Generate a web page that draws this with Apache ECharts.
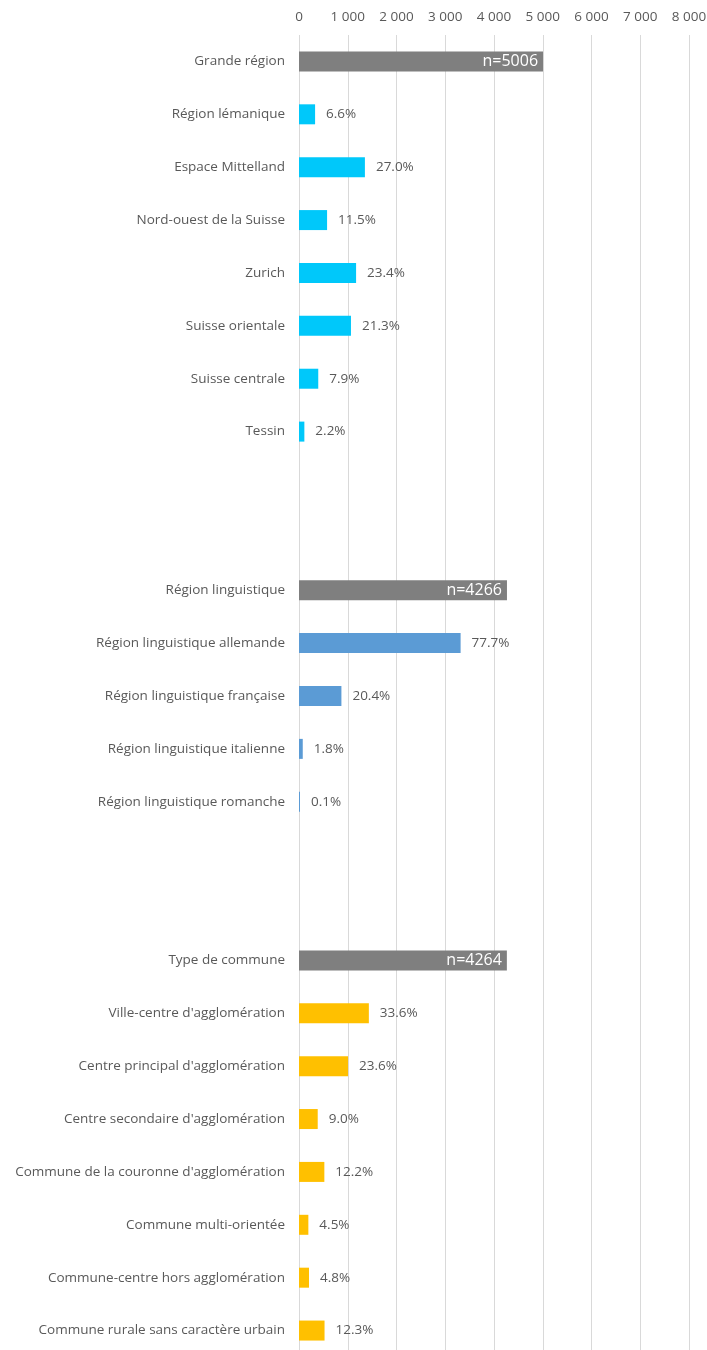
<!DOCTYPE html>
<html>
<head>
<meta charset="utf-8">
<script src="https://cdn.jsdelivr.net/npm/echarts@6/dist/echarts.min.js"></script>
<style>
  html, body { margin: 0; padding: 0; background: #fff; }
  #chart { width: 707px; height: 1350px; }
</style>
</head>
<body>
<div id="chart"></div>
<script>
// categories, top to bottom (blank strings are the gaps between groups)
const categories = [
    'Grande région', 'Région lémanique', 'Espace Mittelland', 'Nord-ouest de la Suisse',
    'Zurich', 'Suisse orientale', 'Suisse centrale', 'Tessin',
    ' ', '  ',
    'Région linguistique', 'Région linguistique allemande', 'Région linguistique française',
    'Région linguistique italienne', 'Région linguistique romanche',
    '   ', '    ',
    'Type de commune', "Ville-centre d'agglomération", "Centre principal d'agglomération",
    "Centre secondaire d'agglomération", "Commune de la couronne d'agglomération",
    'Commune multi-orientée', 'Commune-centre hors agglomération', 'Commune rurale sans caractère urbain'
];

// counts
const values = [
    5006, 330, 1352, 576, 1171, 1066, 395, 110,
    null, null,
    4266, 3315, 870, 77, 4,
    null, null,
    4264, 1433, 1006, 384, 520, 192, 205, 524
];

// bar labels as printed
const labels = [
    'n=5006', '6.6%', '27.0%', '11.5%', '23.4%', '21.3%', '7.9%', '2.2%',
    '', '',
    'n=4266', '77.7%', '20.4%', '1.8%', '0.1%',
    '', '',
    'n=4264', '33.6%', '23.6%', '9.0%', '12.2%', '4.5%', '4.8%', '12.3%'
];

// which group each row belongs to: 0 = total, 1..3 = groups, -1 = gap
const groups = [
    0, 1, 1, 1, 1, 1, 1, 1,
    -1, -1,
    0, 2, 2, 2, 2,
    -1, -1,
    0, 3, 3, 3, 3, 3, 3, 3
];

const xTicks = [0, 1000, 2000, 3000, 4000, 5000, 6000, 7000, 8000];

const groupColors = ['#7f7f7f', '#00c8fa', '#5b9bd5', '#ffc000'];
const textColor = '#595959';
const fontFamily = '"Open Sans", "Noto Sans", sans-serif';

const seriesData = values.map(function (v, i) {
    let isTotal = groups[i] === 0;
    return {
        value: v,
        itemStyle: { color: groupColors[Math.max(groups[i], 0)] },
        label: isTotal ? {
            position: 'insideRight',
            color: '#ffffff',
            fontSize: 16,
            distance: 5
        } : {
            position: 'right',
            color: textColor,
            fontSize: 13.5,
            distance: 11
        }
    };
});

const chart = echarts.init(document.getElementById('chart'));

const option = {
    animation: false,
    textStyle: { fontFamily: fontFamily },
    grid: {
        left: 299,
        width: 390,
        top: 35,
        height: 1322,
        outerBoundsMode: 'none',
        containLabel: false
    },
    xAxis: {
        type: 'value',
        position: 'top',
        min: xTicks[0],
        max: xTicks[xTicks.length - 1],
        interval: 1000,
        axisLine: { show: false },
        axisTick: { show: false },
        splitLine: { lineStyle: { color: '#d9d9d9', width: 1 } },
        axisLabel: {
            color: textColor,
            fontSize: 13.5,
            margin: 11,
            formatter: function (v) {
                return String(v).replace(/\B(?=(\d{3})+(?!\d))/g, ' ');
            }
        }
    },
    yAxis: {
        type: 'category',
        inverse: true,
        data: categories,
        axisLine: { show: false },
        axisTick: { show: false },
        axisLabel: {
            color: textColor,
            fontSize: 13.5,
            margin: 14,
            interval: 0
        }
    },
    series: [
        {
            type: 'bar',
            barWidth: 20,
            barMinHeight: 1,
            data: seriesData,
            label: {
                show: true,
                fontFamily: fontFamily,
                formatter: function (p) {
                    return labels[p.dataIndex];
                }
            }
        }
    ]
};

chart.setOption(option);
</script>
</body>
</html>
